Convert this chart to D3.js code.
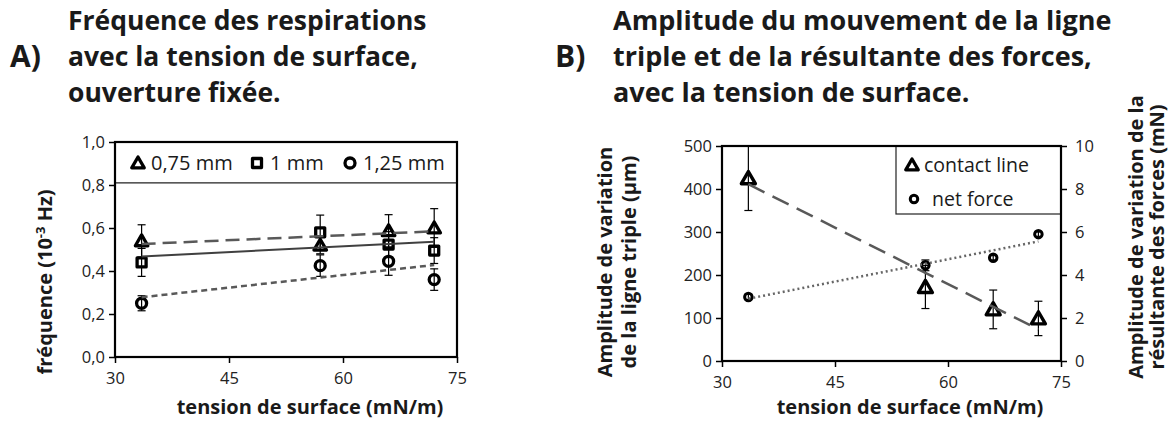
<!DOCTYPE html>
<html><head><meta charset="utf-8">
<script src="https://cdn.jsdelivr.net/npm/d3@7"></script>
<style>
body{margin:0;background:#fff;}
svg{display:block;font-family:"Open Sans",sans-serif;}
</style></head>
<body><svg id="c" width="1176" height="425"></svg>
<script>
// ---- Data ----
const tensionA = [33.5, 57, 66, 72];
const seriesA_names = ["0,75 mm", "1 mm", "1,25 mm"];
const freq075 = [0.54, 0.52, 0.587, 0.60];
const freq075Err = [0.075, 0.04, 0.075, 0.09];
const freq1 = [0.44, 0.58, 0.523, 0.495];
const freq1Err = [0.065, 0.08, 0.06, 0.06];
const freq125 = [0.25, 0.425, 0.445, 0.36];
const freq125Err = [0.035, 0.05, 0.065, 0.05];
const xTicksA = [30, 45, 60, 75];
const yTicksA = [0, 0.2, 0.4, 0.6, 0.8, 1.0];

const tensionB = [33.5, 57, 66, 72];
const seriesB_names = ["contact line", "net force"];
const contactLine = [425, 172, 120, 99];
const contactLineErr = [75, 50, 45, 40];
const netForce = [2.98, 4.45, 4.8, 5.9];
const netForceErr = [0.12, 0.25, 0.1, 0.1];
const xTicksB = [30, 45, 60, 75];
const yTicksBLeft = [0, 100, 200, 300, 400, 500];
const yTicksBRight = [0, 2, 4, 6, 8, 10];

const svg = d3.select("#c");
const fmtComma = d => d3.format(".1f")(d).replace(".", ",");
const FONT = "'Open Sans', sans-serif";
const TXT = "#1a1a1a";

function linfit(xs, ys) {
  const mx = d3.mean(xs), my = d3.mean(ys);
  let sxy = 0, sxx = 0;
  xs.forEach((x, i) => { sxy += (x - mx) * (ys[i] - my); sxx += (x - mx) * (x - mx); });
  const b = sxy / sxx, a = my - b * mx;
  return x => a + b * x;
}

// w = geometric width of the marker (stroke excluded)
function marker(g, type, x, y, w, sw) {
  let sym, area, dy = 0;
  if (type === "tri") { sym = d3.symbolTriangle; area = Math.sqrt(3) / 4 * w * w; dy = w * 0.1; }
  else if (type === "sq") { sym = d3.symbolSquare; area = w * w; }
  else { sym = d3.symbolCircle; area = Math.PI * w * w / 4; }
  g.append("path").attr("d", d3.symbol().type(sym).size(area)())
    .attr("transform", `translate(${x},${y + dy})`)
    .attr("fill", "#fff").attr("stroke", "#000").attr("stroke-width", sw).attr("stroke-linejoin", "round");
}

function errBars(g, xs, ys, es, xS, yS) {
  xs.forEach((x, i) => {
    const px = xS(x), y1 = yS(ys[i] - es[i]), y2 = yS(ys[i] + es[i]);
    g.append("line").attr("x1", px).attr("x2", px).attr("y1", y1).attr("y2", y2).attr("stroke", "#000").attr("stroke-width", 1.2);
    [y1, y2].forEach(yy => g.append("line").attr("x1", px - 4).attr("x2", px + 4).attr("y1", yy).attr("y2", yy).attr("stroke", "#000").attr("stroke-width", 1.2));
  });
}

function trend(g, xs, ys, xS, yS, dash, color, w) {
  const f = linfit(xs, ys);
  const x0 = d3.min(xs), x1 = d3.max(xs);
  g.append("line").attr("x1", xS(x0)).attr("y1", yS(f(x0))).attr("x2", xS(x1)).attr("y2", yS(f(x1)))
    .attr("stroke", color).attr("stroke-width", w).attr("stroke-dasharray", dash);
}

function styleAxis(ax) {
  ax.selectAll("path.domain").remove();
  ax.selectAll(".tick line").attr("stroke", "#000").attr("stroke-width", 1.5);
  ax.selectAll(".tick text").attr("fill", "#222").style("font-size", "16.5px").style("font-family", FONT);
}

function title(x, lbl, lines, size) {
  svg.append("text").attr("x", x).attr("y", 67).text(lbl)
    .style("font-size", "30px").style("font-weight", "bold").attr("fill", TXT);
  lines.forEach((t, i) => svg.append("text").attr("x", x + 58).attr("y", 30 + i * 36).text(t)
    .style("font-size", size + "px").style("font-weight", "bold").attr("fill", TXT));
}

// ---------- Chart A ----------
title(10, "A)", ["Fréquence des respirations", "avec la tension de surface,", "ouverture fixée."], 26.5);
{
  const L = 115, R = 457, T = 142, B = 357;
  const x = d3.scaleLinear().domain([30, 75]).range([L, R]);
  const y = d3.scaleLinear().domain([0, 1]).range([B, T]);
  const g = svg.append("g");
  styleAxis(g.append("g").attr("transform", `translate(${L},0)`).call(d3.axisLeft(y).tickValues(yTicksA).tickFormat(fmtComma).tickSize(6).tickPadding(4)));
  styleAxis(g.append("g").attr("transform", `translate(0,${B})`).call(d3.axisBottom(x).tickValues(xTicksA).tickSize(6).tickPadding(9)));

  const series = [
    {v: freq075, e: freq075Err, m: "tri", w: 12.5, dash: "14,7", col: "#595959", lw: 2.5},
    {v: freq1, e: freq1Err, m: "sq", w: 9, dash: null, col: "#404040", lw: 2},
    {v: freq125, e: freq125Err, m: "circ", w: 10, dash: "6,4", col: "#595959", lw: 2.5}
  ];
  series.forEach(s => s.v.forEach((v, i) => marker(g, s.m, x(tensionA[i]), y(v), s.w, 3.3)));
  series.forEach(s => errBars(g, tensionA, s.v, s.e, x, y));
  series.forEach(s => trend(g, tensionA, s.v, x, y, s.dash, s.col, s.lw));

  // legend
  g.append("rect").attr("x", L).attr("y", T).attr("width", R - L).attr("height", y(0.81) - T).attr("fill", "#fff");
  g.append("line").attr("x1", L).attr("x2", R).attr("y1", y(0.81)).attr("y2", y(0.81)).attr("stroke", "#222").attr("stroke-width", 1.2);
  const legX = [138, 257, 350];
  seriesA_names.forEach((n, i) => {
    const s = series[i];
    marker(g, s.m, legX[i], 163, s.w, 3.3);
    g.append("text").attr("x", legX[i] + 13).attr("y", 170).text(n).style("font-size", "20px").attr("fill", TXT);
  });
  g.append("rect").attr("x", L).attr("y", T).attr("width", R - L).attr("height", B - T).attr("fill", "none").attr("stroke", "#000").attr("stroke-width", 2.2);

  svg.append("text").attr("x", 310).attr("y", 414).attr("text-anchor", "middle").text("tension de surface (mN/m)")
    .style("font-size", "20px").style("font-weight", "bold").attr("fill", TXT);
  const yl = svg.append("text").attr("transform", "translate(52,282) rotate(-90)").attr("text-anchor", "middle")
    .style("font-size", "20px").style("font-weight", "bold").attr("fill", TXT);
  yl.append("tspan").text("fréquence (10");
  yl.append("tspan").text("-3").attr("dy", -7).style("font-size", "13px");
  yl.append("tspan").text(" Hz)").attr("dy", 7);
}

// ---------- Chart B ----------
title(555, "B)", ["Amplitude du mouvement de la ligne", "triple et de la résultante des forces,", "avec la tension de surface."], 27);
{
  const L = 722, R = 1061, T = 146, B = 361;
  const x = d3.scaleLinear().domain([30, 75]).range([L, R]);
  const yL = d3.scaleLinear().domain([0, 500]).range([B, T]);
  const yR = d3.scaleLinear().domain([0, 10]).range([B, T]);
  const g = svg.append("g");
  styleAxis(g.append("g").attr("transform", `translate(${L},0)`).call(d3.axisLeft(yL).tickValues(yTicksBLeft).tickSize(6).tickPadding(4)));
  styleAxis(g.append("g").attr("transform", `translate(${R},0)`).call(d3.axisRight(yR).tickValues(yTicksBRight).tickSize(6).tickPadding(8)));
  styleAxis(g.append("g").attr("transform", `translate(0,${B})`).call(d3.axisBottom(x).tickValues(xTicksB).tickSize(6).tickPadding(9)));

  svg.append("clipPath").attr("id", "clipB").append("rect").attr("x", L).attr("y", T).attr("width", R - L).attr("height", B - T);
  const gp = g.append("g").attr("clip-path", "url(#clipB)");

  tensionB.forEach((t, i) => marker(gp, "tri", x(t), yL(contactLine[i]), 14, 3.4));
  tensionB.forEach((t, i) => marker(gp, "circ", x(t), yR(netForce[i]), 7.5, 3));
  errBars(gp, tensionB, contactLine, contactLineErr, x, yL);
  errBars(gp, tensionB, netForce, netForceErr, x, yR);
  trend(gp, tensionB, contactLine, x, yL, "18,9", "#595959", 2.5);
  trend(gp, tensionB, netForce, x, yR, "2,3", "#666", 2.5);

  g.append("rect").attr("x", 896).attr("y", T).attr("width", R - 896).attr("height", 68).attr("fill", "#fff").attr("stroke", "#222").attr("stroke-width", 1.2);
  marker(g, "tri", 912, 165, 12.5, 3.3);
  g.append("text").attr("x", 924).attr("y", 172).text(seriesB_names[0]).style("font-size", "19.5px").attr("fill", TXT);
  marker(g, "circ", 914, 199, 7.5, 3);
  g.append("text").attr("x", 932).attr("y", 206).text(seriesB_names[1]).style("font-size", "19.5px").attr("fill", TXT);

  g.append("rect").attr("x", L).attr("y", T).attr("width", R - L).attr("height", B - T).attr("fill", "none").attr("stroke", "#000").attr("stroke-width", 2.2);

  svg.append("text").attr("x", 910).attr("y", 414).attr("text-anchor", "middle").text("tension de surface (mN/m)")
    .style("font-size", "20px").style("font-weight", "bold").attr("fill", TXT);
  const l1 = svg.append("text").attr("transform", "translate(612,262) rotate(-90)").attr("text-anchor", "middle")
    .style("font-size", "20px").style("font-weight", "bold").attr("fill", TXT);
  l1.append("tspan").attr("x", 0).attr("y", 0).text("Amplitude de variation");
  l1.append("tspan").attr("x", 0).attr("y", 24).text("de la ligne triple (µm)");
  const l2 = svg.append("text").attr("transform", "translate(1143,237) rotate(-90)").attr("text-anchor", "middle")
    .style("font-size", "20px").style("font-weight", "bold").attr("fill", TXT);
  l2.append("tspan").attr("x", 0).attr("y", 0).text("Amplitude de variation de la");
  l2.append("tspan").attr("x", 0).attr("y", 21).text("résultante des forces (mN)");
}
</script></body></html>
